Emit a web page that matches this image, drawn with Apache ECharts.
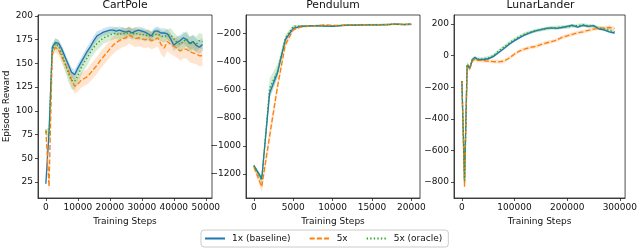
<!DOCTYPE html>
<html><head><meta charset="utf-8">
<script src="https://cdn.jsdelivr.net/npm/echarts@6/dist/echarts.min.js"></script>
<style>html,body{margin:0;padding:0;background:#fff}#c{width:640px;height:248px}</style>
</head><body><div id="c"></div>
<script>
const SERIES_NAMES = ['1x (baseline)', '5x', '5x (oracle)'];
const COLORS = ['#1f77b4', '#ff7f0e', '#2ca02c'];
const TITLES = ['CartPole', 'Pendulum', 'LunarLander'];

// ---- CartPole ----
const cartSteps = [0,1000,2000,3000,4000,5000,6000,7000,8000,9000,10000,11000,12000,13000,14000,15000,16000,17000,18000,19000,20000,21000,22000,23000,24000,25000,26000,27000,28000,29000,30000,31000,32000,33000,34000,35000,36000,37000,38000,39000,40000,41000,42000,43000,44000,45000,46000,47000,48000,49000];
const cartBase = [23,77,167,172,171,165,157,149,141,138,145,151,157,163,168,174,179,181,183,184,185,185,184,185,184,183,184,182,184,185,184,183,181,179,184,184,182,182,181,176,169,172,174,177,175,171,173,169,167,170];
const cart5x = [80,20,160,167,164,157,150,143,133,126,128,132,134,136,140,144,148,153,157,161,165,169,172,174,176,177,180,178,176,177,176,175,176,174,175,177,170,166,173,170,168,166,163,165,165,162,161,160,158,158];
const cartOracle = [78,74,163,171,168,160,150,140,132,131,137,145,151,156,162,167,171,174,177,178,180,181,182,180,182,181,183,181,182,180,181,179,180,178,180,181,179,178,180,180,176,172,170,173,176,170,172,170,174,173];
const cartBaseStd = [2,10,4,4,4,4,4,4,5,5,5,5,5,5,5,5,5,4,4,4,4,4,4,4,4,4,4,4,4,4,4,4,4,4,4,5,5,5,5,6,6,6,6,6,7,7,7,7,7,7];
const cart5xStd = [3,12,5,5,6,7,7,7,8,8,8,8,8,8,9,9,9,9,9,9,9,9,9,9,9,9,9,9,9,9,9,9,9,9,9,9,10,10,10,10,10,10,10,10,10,11,11,11,11,11];
const cartOracleStd = [3,8,6,6,6,7,8,9,9,9,9,8,8,8,7,7,7,7,6,6,6,6,6,6,6,6,6,6,6,6,6,6,6,6,6,6,6,6,6,7,7,7,8,8,8,8,8,8,8,8];
const cartXTicks = [0,10000,20000,30000,40000,50000];
const cartYTicks = [25,50,75,100,125,150,175,200];

// ---- Pendulum ----
const pendSteps = [0,1000,2000,3000,4000,5000,6000,7000,8000,9000,10000,11000,12000,13000,14000,15000,16000,17000,18000,19000,20000];
const pendBase = [-1140,-1232,-625,-480,-245,-165,-150,-148,-145,-148,-150,-145,-142,-142,-140,-140,-140,-138,-135,-138,-136];
const pend5x = [-1150,-1290,-930,-580,-280,-175,-155,-150,-145,-140,-145,-143,-140,-140,-138,-140,-138,-138,-135,-137,-136];
const pendOracle = [-1140,-1245,-590,-470,-235,-150,-148,-148,-146,-150,-148,-146,-142,-141,-140,-139,-139,-137,-135,-137,-135];
const pendBaseStd = [12,20,35,30,20,8,6,6,6,6,6,6,6,6,6,6,6,6,6,6,6];
const pend5xStd = [15,35,50,40,25,10,6,6,6,6,6,6,6,6,6,6,6,6,6,6,6];
const pendOracleStd = [12,25,70,50,25,10,6,6,6,6,6,6,6,6,6,6,6,6,6,6,6];
const pendXTicks = [0,5000,10000,15000,20000];
const pendYTicks = [-1200,-1000,-800,-600,-400,-200];

// ---- LunarLander ----
const lunarSteps = [0,5000,10000,15000,20000,25000,30000,40000,50000,60000,70000,80000,90000,100000,110000,120000,130000,140000,150000,160000,170000,180000,190000,200000,210000,220000,230000,240000,250000,260000,270000,280000,290000];
const lunarBase = [-160,-800,-60,-80,-25,-12,-25,-25,-20,-5,20,45,72,95,114,132,145,156,164,172,176,172,178,185,192,180,192,185,190,170,163,150,143];
const lunar5x = [-160,-830,-65,-85,-35,-20,-30,-32,-35,-38,-40,-35,-15,10,30,42,52,58,70,80,88,98,115,125,135,145,150,160,168,172,175,178,172];
const lunarOracle = [-160,-790,-55,-75,-22,-15,-22,-20,-15,0,30,55,80,102,122,138,148,158,165,170,175,178,180,180,188,190,195,188,185,175,168,160,150];
const lunarBaseStd = [10,30,15,12,10,10,8,8,8,8,8,8,8,8,8,8,8,8,8,8,8,8,8,8,8,8,8,8,8,8,8,8,8];
const lunar5xStd = [10,40,15,12,12,12,12,12,12,12,12,12,12,12,12,12,12,12,12,12,12,12,12,12,12,12,12,12,12,12,12,12,12];
const lunarOracleStd = [10,30,15,12,12,12,12,12,12,12,12,12,12,12,12,12,12,12,12,12,12,12,12,12,12,12,12,12,12,12,12,12,12];
const lunarXTicks = [0,100000,200000,300000];
const lunarYTicks = [-800,-600,-400,-200,0,200];

const panels = [
  {steps: cartSteps, means: [cartBase, cart5x, cartOracle], stds: [cartBaseStd, cart5xStd, cartOracleStd], xt: cartXTicks, yt: cartYTicks, xr: [-2450, 51950], yr: [8, 201], left: 38, width: 174},
  {steps: pendSteps, means: [pendBase, pend5x, pendOracle], stds: [pendBaseStd, pend5xStd, pendOracleStd], xt: pendXTicks, yt: pendYTicks, xr: [-1000, 21100], yr: [-1370, -70], left: 246, width: 174},
  {steps: lunarSteps, means: [lunarBase, lunar5x, lunarOracle], stds: [lunarBaseStd, lunar5xStd, lunarOracleStd], xt: lunarXTicks, yt: lunarYTicks, xr: [-15000, 310000], yr: [-901, 257], left: 454, width: 173}
];

const FONT = 'DejaVu Sans';
const TXT = '#111';
const fmt = v => (v < 0 ? '\u2212' + Math.abs(v) : String(v));
const DASH = ['solid', [5, 2.2], [1.35, 2.2]];

const grids = [], xAxes = [], yAxes = [], titles = [], series = [];
panels.forEach((p, g) => {
  grids.push({left: p.left, top: 15, width: p.width, height: 183, show: true, borderColor: '#222', borderWidth: 0.8, backgroundColor: 'transparent'});
  titles.push({text: TITLES[g], left: p.left + p.width / 2, top: 0, textAlign: 'center', padding: 0,
    textStyle: {fontFamily: FONT, fontSize: 10.8, fontWeight: 'normal', color: TXT}});
  const axisCommon = {
    axisLine: {show: true, onZero: false, lineStyle: {color: '#222', width: 0.8}},
    splitLine: {show: false}
  };
  xAxes.push(Object.assign({gridIndex: g, type: 'value', min: p.xr[0], max: p.xr[1],
    axisTick: {show: true, length: 3, customValues: p.xt, lineStyle: {color: '#222', width: 0.8}},
    axisLabel: {customValues: p.xt, margin: 5, fontSize: 9, fontFamily: FONT, color: TXT, formatter: fmt},
    name: 'Training Steps', nameLocation: 'middle', nameGap: 19,
    nameTextStyle: {fontSize: 9, fontFamily: FONT, color: TXT}}, axisCommon));
  const ya = Object.assign({gridIndex: g, type: 'value', min: p.yr[0], max: p.yr[1],
    axisTick: {show: true, length: 3, customValues: p.yt, lineStyle: {color: '#222', width: 0.8}},
    axisLabel: {customValues: p.yt, margin: 5, fontSize: 9, fontFamily: FONT, color: TXT, formatter: fmt}}, axisCommon);
  if (g === 0) {
    Object.assign(ya, {name: 'Episode Reward', nameLocation: 'middle', nameGap: 27, nameRotate: 90,
      nameTextStyle: {fontSize: 9, fontFamily: FONT, color: TXT}});
  }
  yAxes.push(ya);
  // shaded bands (mean ± std) as polygons mapped through the axes
  for (let k = 0; k < 3; k++) {
    const m = p.means[k], s = p.stds[k], steps = p.steps;
    const lo = m.map((v, i) => v - s[i]);
    const hi = m.map((v, i) => v + s[i]);
    series.push({type: 'custom', name: 'band', xAxisIndex: g, yAxisIndex: g, silent: true, z: 1, clip: true,
      data: steps.map((x, i) => [x, lo[i], hi[i]]),
      encode: {x: 0, y: [1, 2]},
      renderItem: (params, api) => {
        if (params.dataIndex !== 0) return null;
        const pts = [];
        for (let i = 0; i < steps.length; i++) pts.push(api.coord([steps[i], hi[i]]));
        for (let i = steps.length - 1; i >= 0; i--) pts.push(api.coord([steps[i], lo[i]]));
        return {type: 'polygon', shape: {points: pts}, style: {fill: COLORS[k], opacity: 0.2}};
      }});
  }
  // mean lines
  for (let k = 0; k < 3; k++) {
    series.push({type: 'line', name: SERIES_NAMES[k], xAxisIndex: g, yAxisIndex: g,
      data: p.steps.map((x, i) => [x, p.means[k][i]]), symbol: 'none',
      lineStyle: {color: COLORS[k], width: 1.35, type: DASH[k], cap: 'butt'},
      itemStyle: {color: COLORS[k]}, z: 3 + k, animation: false});
  }
});

const chart = echarts.init(document.getElementById('c'), null, {renderer: 'canvas'});
chart.setOption({
  animation: false,
  backgroundColor: '#fff',
  title: titles,
  grid: grids,
  xAxis: xAxes,
  yAxis: yAxes,
  legend: {data: SERIES_NAMES, left: 201, top: 230, itemWidth: 20, itemHeight: 10, itemGap: 18,
    padding: [4, 6, 4, 3], borderColor: '#ccc', borderWidth: 1, borderRadius: 3, backgroundColor: '#fff',
    itemStyle: {opacity: 0},
    textStyle: {fontFamily: FONT, fontSize: 9, color: TXT, padding: [0, 0, 0, 2]}},
  series
});
</script></body></html>
